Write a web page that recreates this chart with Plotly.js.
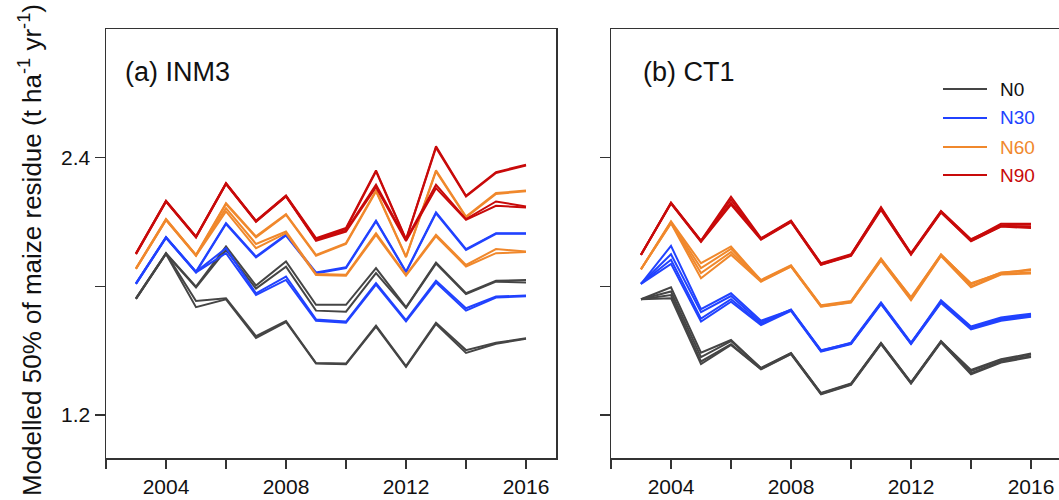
<!DOCTYPE html>
<html>
<head>
<meta charset="utf-8">
<script src="https://cdn.plot.ly/plotly-3.0.1.min.js"></script>
<style>html,body{margin:0;padding:0;background:#fff;}#chart{width:1059px;height:500px;}</style>
</head>
<body>
<div id="chart"></div>
<script>
// ---------------- data ----------------
var years = [2003,2004,2005,2006,2007,2008,2009,2010,2011,2012,2013,2014,2015,2016];
var seriesNames = ['N0','N30','N60','N90'];
var xTickVals = [2004,2008,2012,2016];
var xTickText = ['2004','2008','2012','2016'];
var xMinorVals = [2002,2006,2010,2014];
var yTickVals = [1.2,2.4];
var yTickText = ['1.2','2.4'];
var yMinorVals = [1.8];
var panelLabels = ['(a) INM3','(b) CT1'];

// (a) INM3
var inm3_n0_a = [1.745,1.955,1.799,1.986,1.804,1.916,1.714,1.714,1.885,1.703,1.911,1.768,1.826,1.830];
var inm3_n0_b = [1.742,1.952,1.795,1.970,1.790,1.892,1.687,1.682,1.862,1.700,1.906,1.764,1.822,1.818];
var inm3_n0_c = [1.744,1.954,1.732,1.745,1.568,1.639,1.443,1.440,1.617,1.428,1.631,1.503,1.537,1.558];
var inm3_n0_d = [1.741,1.951,1.703,1.740,1.560,1.634,1.440,1.437,1.612,1.425,1.625,1.490,1.533,1.556];

var inm3_n30_a = [1.815,2.030,1.869,2.095,1.939,2.041,1.865,1.889,2.107,1.869,2.145,1.974,2.048,2.048];
var inm3_n30_b = [1.812,2.027,1.866,2.091,1.935,2.037,1.861,1.885,2.103,1.866,2.141,1.970,2.045,2.045];
var inm3_n30_c = [1.814,2.029,1.868,1.978,1.768,1.846,1.646,1.636,1.815,1.643,1.827,1.698,1.753,1.757];
var inm3_n30_d = [1.811,2.026,1.865,1.955,1.760,1.830,1.640,1.631,1.808,1.637,1.818,1.687,1.748,1.754];

var inm3_n60_a = [1.885,2.114,1.947,2.188,2.033,2.137,1.947,2.002,2.247,1.939,2.341,2.126,2.235,2.247];
var inm3_n60_b = [1.882,2.110,1.944,2.184,2.028,2.133,1.943,1.998,2.243,1.936,2.336,2.122,2.231,2.244];
var inm3_n60_c = [1.884,2.112,1.946,2.165,1.998,2.056,1.858,1.854,2.048,1.854,2.041,1.900,1.974,1.963];
var inm3_n60_d = [1.881,2.109,1.943,2.150,1.978,2.048,1.853,1.850,2.040,1.850,2.034,1.893,1.955,1.960];

var inm3_n90_a = [1.955,2.199,2.033,2.282,2.106,2.224,2.025,2.072,2.341,2.020,2.453,2.223,2.333,2.367];
var inm3_n90_b = [1.952,2.196,2.030,2.278,2.103,2.220,2.020,2.068,2.336,2.017,2.447,2.219,2.329,2.363];
var inm3_n90_c = [1.953,2.198,2.031,2.280,2.104,2.222,2.017,2.060,2.274,2.017,2.274,2.114,2.196,2.173];
var inm3_n90_d = [1.950,2.195,2.028,2.277,2.101,2.219,2.012,2.055,2.262,2.012,2.258,2.110,2.176,2.168];

// (b) CT1
var ct1_n0_a = [1.740,1.796,1.491,1.550,1.418,1.488,1.301,1.345,1.535,1.351,1.543,1.410,1.460,1.487];
var ct1_n0_b = [1.740,1.776,1.470,1.545,1.420,1.490,1.303,1.347,1.537,1.353,1.545,1.405,1.457,1.482];
var ct1_n0_c = [1.740,1.760,1.450,1.530,1.415,1.486,1.299,1.343,1.533,1.349,1.541,1.395,1.450,1.475];
var ct1_n0_d = [1.740,1.745,1.438,1.527,1.413,1.484,1.297,1.341,1.531,1.347,1.539,1.390,1.445,1.471];

var ct1_n30_a = [1.812,1.989,1.694,1.768,1.640,1.690,1.503,1.535,1.722,1.535,1.735,1.613,1.655,1.673];
var ct1_n30_b = [1.812,1.950,1.680,1.755,1.632,1.692,1.500,1.538,1.725,1.538,1.729,1.610,1.650,1.668];
var ct1_n30_c = [1.812,1.924,1.650,1.740,1.625,1.688,1.498,1.533,1.719,1.533,1.726,1.605,1.645,1.662];
var ct1_n30_d = [1.812,1.905,1.636,1.729,1.620,1.686,1.496,1.531,1.717,1.531,1.723,1.600,1.640,1.658];

var ct1_n60_a = [1.880,2.103,1.908,1.986,1.827,1.896,1.709,1.729,1.927,1.750,1.947,1.815,1.862,1.880];
var ct1_n60_b = [1.880,2.100,1.885,1.975,1.830,1.898,1.712,1.732,1.930,1.745,1.950,1.810,1.865,1.875];
var ct1_n60_c = [1.880,2.097,1.862,1.960,1.825,1.894,1.707,1.727,1.922,1.740,1.944,1.800,1.858,1.865];
var ct1_n60_d = [1.880,2.094,1.838,1.947,1.822,1.892,1.705,1.725,1.920,1.735,1.942,1.796,1.855,1.860];

var ct1_n90_a = [1.947,2.191,2.014,2.218,2.025,2.107,1.905,1.947,2.170,1.952,2.150,2.017,2.092,2.092];
var ct1_n90_b = [1.947,2.189,2.012,2.204,2.022,2.104,1.908,1.950,2.165,1.955,2.152,2.020,2.085,2.090];
var ct1_n90_c = [1.947,2.188,2.010,2.190,2.020,2.102,1.902,1.944,2.160,1.950,2.146,2.013,2.080,2.080];
var ct1_n90_d = [1.947,2.186,2.008,2.181,2.018,2.100,1.900,1.942,2.156,1.948,2.144,2.010,2.079,2.072];

// ---------------- styling ----------------
var colors = {N0:'#454545', N30:'#2142ff', N60:'#f0882c', N90:'#c80a0a'};
var textColors = {N0:'#111111', N30:'#2142ff', N60:'#f0882c', N90:'#c80a0a'};
var FONT = 'Liberation Sans, Arial, Helvetica, sans-serif';
var AXC = '#333333';

var groups = {
  inm3: {N0:[inm3_n0_a,inm3_n0_b,inm3_n0_c,inm3_n0_d], N30:[inm3_n30_a,inm3_n30_b,inm3_n30_c,inm3_n30_d],
         N60:[inm3_n60_a,inm3_n60_b,inm3_n60_c,inm3_n60_d], N90:[inm3_n90_a,inm3_n90_b,inm3_n90_c,inm3_n90_d]},
  ct1:  {N0:[ct1_n0_a,ct1_n0_b,ct1_n0_c,ct1_n0_d], N30:[ct1_n30_a,ct1_n30_b,ct1_n30_c,ct1_n30_d],
         N60:[ct1_n60_a,ct1_n60_b,ct1_n60_c,ct1_n60_d], N90:[ct1_n90_a,ct1_n90_b,ct1_n90_c,ct1_n90_d]}
};

var traces = [];
[['inm3','x','y'],['ct1','x2','y2']].forEach(function(p){
  seriesNames.forEach(function(n){
    groups[p[0]][n].forEach(function(vals){
      traces.push({x:years, y:vals, xaxis:p[1], yaxis:p[2], type:'scatter', mode:'lines',
        name:n, showlegend:false, hoverinfo:'skip',
        line:{color:colors[n], width:2}});
    });
  });
});

var W = 1059, H = 500, T = 29, B = 42;
var plotH = H - T - B;
function py(p){ return (H - B - p) / plotH; }

function xAxis(domain, range, anchor){
  return {domain:domain, range:range, anchor:anchor,
    tickmode:'array', tickvals:xTickVals, ticktext:xTickText,
    ticks:'outside', ticklen:9, tickwidth:1.5, tickcolor:AXC,
    minor:{tickmode:'array', tickvals:xMinorVals, ticks:'outside', ticklen:9, tickwidth:1.5, tickcolor:AXC, showgrid:false},
    showline:true, linecolor:AXC, linewidth:1.5, mirror:true,
    showgrid:false, zeroline:false, fixedrange:true,
    tickfont:{family:FONT, size:21, color:'#111'}};
}
function yAxis(anchor, labels, mirror){
  return {anchor:anchor, domain:[0,1], range:[1,3],
    tickmode:'array', tickvals:yTickVals, ticktext:yTickText,
    minor:{tickmode:'array', tickvals:yMinorVals, ticks:'outside', ticklen:10, tickwidth:1.5, tickcolor:AXC, showgrid:false},
    showticklabels:labels, ticks:'outside', ticklen:10, tickwidth:1.5, tickcolor:AXC,
    showline:true, linecolor:AXC, linewidth:1.5, mirror:mirror,
    showgrid:false, zeroline:false, fixedrange:true,
    tickfont:{family:FONT, size:21, color:'#111'}};
}

var shapes = [], annotations = [];
// legend (right panel)
var legY = [89, 118, 147, 175];
seriesNames.forEach(function(n, i){
  shapes.push({type:'line', xref:'paper', yref:'paper', x0:943/W, x1:987/W, y0:py(legY[i]), y1:py(legY[i]),
    line:{color:colors[n], width:2}});
  annotations.push({xref:'paper', yref:'paper', x:998/W, y:py(legY[i]), xanchor:'left', yanchor:'middle',
    text:n, showarrow:false, font:{family:FONT, size:19, color:textColors[n]}});
});
// panel labels
annotations.push({xref:'paper', yref:'paper', x:123/W, y:py(72), xanchor:'left', yanchor:'middle',
  text:panelLabels[0], showarrow:false, font:{family:FONT, size:27, color:'#111'}});
annotations.push({xref:'paper', yref:'paper', x:641/W, y:py(72), xanchor:'left', yanchor:'middle',
  text:panelLabels[1], showarrow:false, font:{family:FONT, size:27, color:'#111'}});
// y axis title
annotations.push({xref:'paper', yref:'paper', x:30/W, y:py(250), xanchor:'center', yanchor:'middle',
  textangle:-90, showarrow:false,
  text:'Modelled 50% of maize residue (t ha<sup>-1</sup> yr<sup>-1</sup>)',
  font:{family:FONT, size:26, color:'#111'}});

var layout = {
  width:W, height:H, margin:{l:0, r:0, t:T, b:B},
  paper_bgcolor:'#ffffff', plot_bgcolor:'#ffffff', showlegend:false,
  xaxis: xAxis([106/W, 556/W], [2002, 2017], 'y'),
  yaxis: yAxis('x', true, true),
  xaxis2: xAxis([611/W, 1], [2002, 2002 + 448/30], 'y2'),
  yaxis2: yAxis('x2', false, false),
  shapes:shapes, annotations:annotations,
  font:{family:FONT}
};

Plotly.newPlot('chart', traces, layout, {displayModeBar:false, staticPlot:true});
</script>
</body>
</html>
